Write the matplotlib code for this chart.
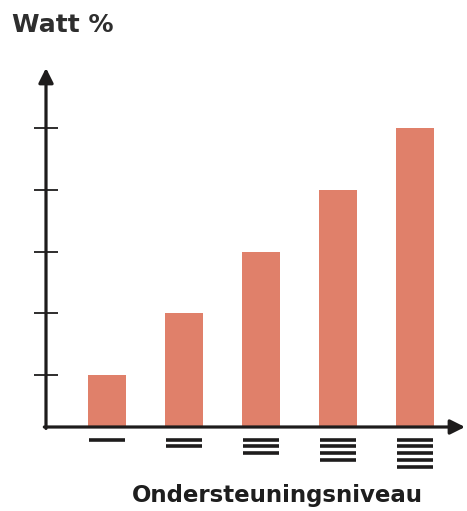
import numpy as np
from matplotlib import pyplot as plt
from matplotlib import transforms

# support levels 1..5 and relative wattage
levels = [1, 2, 3, 4, 5]
watt = [1, 2, 3, 4, 5]
yticks = [1, 2, 3, 4, 5]

bar_color = "#e0806a"
ink = "#1e1c1c"

fig = plt.figure(figsize=(4.67, 5.11), dpi=100)
W, H = 467, 511
ax = fig.add_axes([46 / W, 84 / H, (465 - 46) / W, (427 - 68) / H])

x = np.arange(len(levels))
ax.bar(x, watt, width=0.49, color=bar_color, zorder=1)

ax.set_xlim(-0.79, 4.65)
ax.set_ylim(0.155, 5.98)
for s in ax.spines.values():
    s.set_visible(False)

ax.set_yticks(yticks)
ax.set_yticklabels([])
ax.tick_params(axis="y", direction="inout", length=17, width=1.3, color=ink)
ax.set_xticks([])

# axes drawn as arrows
arrow = dict(arrowstyle="-|>", lw=2.3, color=ink, mutation_scale=22, shrinkA=0, shrinkB=0)
ax.annotate("", xy=(0, 1), xytext=(0, -0.004), xycoords="axes fraction", arrowprops=arrow)
ax.annotate("", xy=(1, 0), xytext=(-0.004, 0), xycoords="axes fraction", arrowprops=arrow)

# level symbols under the bars: n stacked lines
ax_h = 427 - 68
trans = transforms.blended_transform_factory(ax.transData, ax.transAxes)
for i, n in enumerate(levels):
    for k in range(n):
        yy = -(12.7 + 6.7 * k) / ax_h
        ax.plot([x[i] - 0.235, x[i] + 0.235], [yy, yy], color=ink, lw=2.6,
                solid_capstyle="butt", transform=trans, clip_on=False)

fig.text(12 / W, 1 - 32 / H, "Watt %", fontsize=18, fontweight="bold", color="#2e2e2e",
         ha="left", va="baseline")
fig.text(277 / W, 1 - 502 / H, "Ondersteuningsniveau", fontsize=16.5, fontweight="bold",
         color="#1e1e1e", ha="center", va="baseline")

fig.savefig("out.png", dpi=100)
